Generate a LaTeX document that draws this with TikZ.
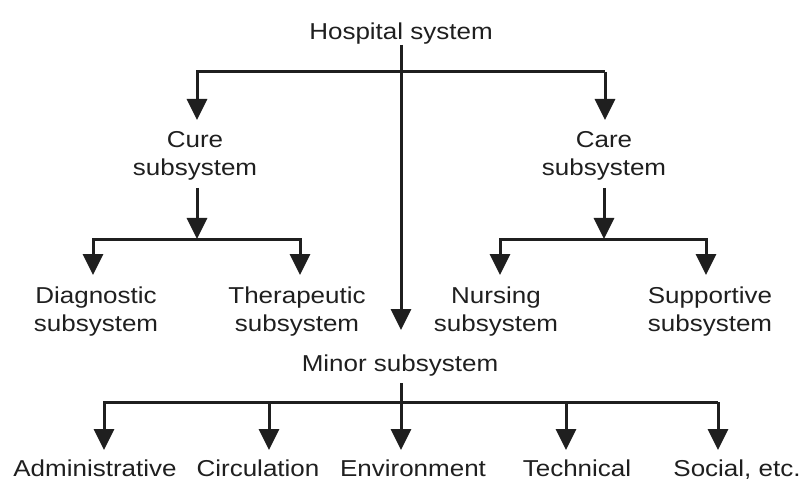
\documentclass[tikz,border=0pt]{standalone}
\usepackage{fontspec}
\setmainfont{Liberation Sans}[FakeStretch=1.13]
\usetikzlibrary{arrows.meta}
\definecolor{ink}{gray}{0.12}
\begin{document}
\begin{tikzpicture}[x=1pt,y=-1pt,
  font=\fontsize{23}{28}\selectfont,
  line width=3pt, draw=ink,
  arr/.style={-{Triangle[width=20pt,length=21pt]}, draw=ink, shorten >=10pt},
  lbl/.style={inner sep=0pt, align=center, text=ink, anchor=north}]
\useasboundingbox (0,0) rectangle (803,481);
% nodes
\node[lbl] (hosp)  at (401,21)  {Hospital system};
\node[lbl] (cure)  at (195,130) {Cure\\subsystem};
\node[lbl] (care)  at (604,130) {Care\\subsystem};
\node[lbl] (diag)  at (96,285)  {Diagnostic\\subsystem};
\node[lbl] (ther)  at (297,285) {Therapeutic\\subsystem};
\node[lbl] (nurs)  at (496,285) {Nursing\\subsystem};
\node[lbl] (supp)  at (710,285) {Supportive\\subsystem};
\node[lbl] (minor) at (400,353) {Minor subsystem};
\node[lbl] (adm)   at (95,458)  {Administrative};
\node[lbl] (circ)  at (258,458) {Circulation};
\node[lbl] (env)   at (413,458) {Environment};
\node[lbl] (tech)  at (577,458) {Technical};
\node[lbl] (soc)   at (737,458) {Social, etc.};
% junctions
\coordinate (h0) at (401,45);
\coordinate (hL) at (197,72);
\coordinate (hR) at (605,72);
\coordinate (cL) at (197,188);
\coordinate (cJ) at (197,239);
\coordinate (cA) at (93,239);
\coordinate (cB) at (300,239);
\coordinate (rL) at (604,188);
\coordinate (rJ) at (604,239);
\coordinate (rA) at (500,239);
\coordinate (rB) at (706,239);
\coordinate (m0) at (401,383);
\coordinate (mJ) at (401,402);
\coordinate (mA) at (104,402);
\coordinate (mB) at (269,402);
\coordinate (mD) at (566,402);
\coordinate (mE) at (718,402);
% top level
\draw[arr, shorten >=23pt] (h0) -- (h0 |- minor.north);
\draw[arr] (hR) -- (hL) -- (hL |- cure.north);
\draw[arr] (hR) -- (hR |- care.north);
% cure branch
\draw[arr, shorten >=0pt] (cL) -- (cJ);
\draw[arr] (cJ) -- (cA) -- (cA |- diag.north);
\draw[arr] (cJ) -- (cB) -- (cB |- ther.north);
% care branch
\draw[arr, shorten >=0pt] (rL) -- (rJ);
\draw[arr] (rJ) -- (rA) -- (rA |- nurs.north);
\draw[arr] (rJ) -- (rB) -- (rB |- supp.north);
% minor branch
\draw (m0) -- (mJ);
\draw[arr, shorten >=8pt] (mE) -- (mA) -- (mA |- adm.north);
\draw[arr, shorten >=8pt] (mB) -- (mB |- circ.north);
\draw[arr, shorten >=8pt] (mJ) -- (mJ |- env.north);
\draw[arr, shorten >=8pt] (mD) -- (mD |- tech.north);
\draw[arr, shorten >=8pt] (mE) -- (mE |- soc.north);
\end{tikzpicture}
\end{document}
